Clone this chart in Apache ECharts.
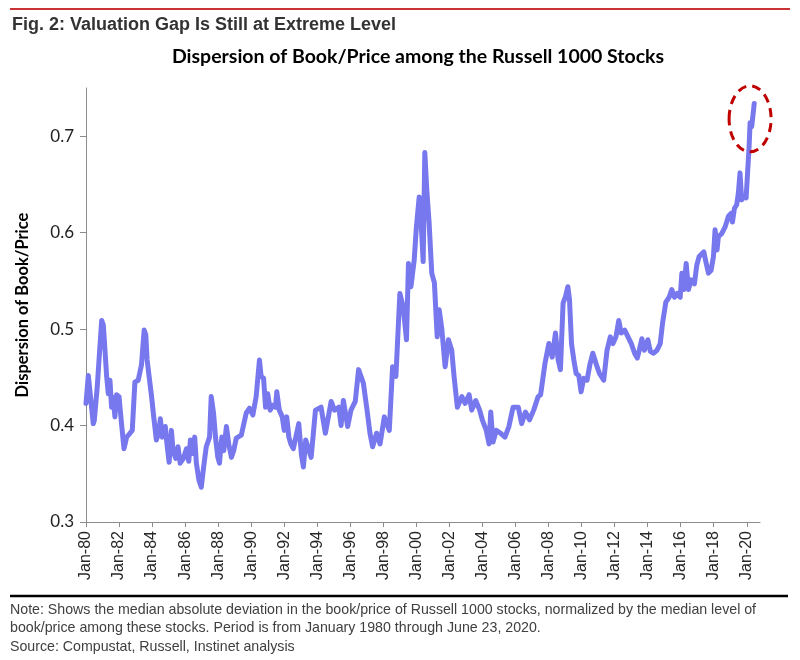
<!DOCTYPE html>
<html>
<head>
<meta charset="utf-8">
<script src="https://cdn.jsdelivr.net/npm/echarts@6/dist/echarts.min.js"></script>
<style>
html,body{margin:0;padding:0;background:#fff;}
#chart{width:800px;height:660px;}
</style>
</head>
<body>
<div id="chart"></div>
<script>
// ---- data ----
var years = [
1980.00,1980.14,1980.22,1980.44,1980.50,1980.68,1980.80,1980.95,1981.05,1981.15,1981.25,1981.35,1981.45,1981.55,1981.65,1981.75,1981.85,
1982.00,1982.15,1982.30,1982.46,1982.66,1982.80,1982.96,1983.16,1983.36,1983.52,1983.62,1983.70,1983.87,1983.97,
1984.10,1984.26,1984.40,1984.50,1984.62,1984.80,1984.90,1985.03,1985.17,1985.27,1985.43,1985.57,1985.70,1985.90,
1986.08,1986.22,1986.32,1986.44,1986.58,1986.68,1986.84,1986.98,1987.12,1987.28,1987.48,1987.58,1987.72,1987.84,1987.98,
1988.08,1988.22,1988.34,1988.50,1988.64,1988.80,1988.94,1989.10,1989.40,1989.70,1989.90,
1990.10,1990.30,1990.50,1990.60,1990.75,1990.87,1991.00,1991.15,1991.30,1991.47,1991.55,1991.70,1991.88,
1992.00,1992.15,1992.28,1992.40,1992.55,1992.67,1992.88,1993.04,1993.16,1993.30,1993.42,1993.63,1993.89,
1994.23,1994.49,1994.84,1995.04,1995.30,1995.44,1995.58,1995.84,
1996.04,1996.30,1996.50,1996.79,1996.99,1997.19,1997.35,1997.59,1997.80,
1998.06,1998.36,1998.56,1998.76,1999.00,1999.20,1999.40,1999.52,1999.67,1999.87,
2000.00,2000.17,2000.31,2000.41,2000.51,2000.63,2000.77,2000.93,2001.09,2001.26,2001.38,2001.54,2001.74,2001.94,
2002.14,2002.28,2002.48,2002.75,2002.95,2003.19,2003.35,2003.59,2003.83,2003.99,
2004.23,2004.40,2004.50,2004.64,2004.84,2005.10,2005.36,2005.60,2005.85,
2006.17,2006.37,2006.60,2006.85,2007.10,2007.37,2007.52,2007.78,
2008.02,2008.22,2008.42,2008.58,2008.72,2008.88,2009.03,2009.17,2009.27,2009.39,2009.53,2009.67,2009.83,2009.97,
2010.13,2010.33,2010.50,2010.68,2010.88,2011.08,2011.34,2011.54,2011.74,2011.90,
2012.08,2012.25,2012.40,2012.61,2012.81,2013.01,2013.21,2013.37,2013.49,2013.65,2013.80,
2014.01,2014.16,2014.36,2014.56,2014.76,2014.90,2015.10,2015.30,2015.46,2015.62,2015.79,2015.97,
2016.07,2016.20,2016.33,2016.47,2016.63,2016.83,2016.97,2017.11,2017.27,2017.40,2017.52,2017.68,2017.84,2017.98,
2018.08,2018.20,2018.28,2018.48,2018.69,2018.89,2019.05,2019.13,2019.25,2019.39,2019.49,2019.59,2019.69,2019.81,2019.96,
2020.08,2020.14,2020.20,2020.30,2020.45
];
var dispersion = [
0.423,0.452,0.450,0.402,0.405,0.440,0.471,0.509,0.504,0.478,0.451,0.433,0.447,0.419,0.429,0.409,0.432,
0.430,0.402,0.376,0.388,0.392,0.395,0.445,0.447,0.463,0.499,0.494,0.468,0.444,0.430,
0.409,0.385,0.392,0.407,0.388,0.399,0.381,0.362,0.395,0.374,0.366,0.378,0.361,0.366,
0.376,0.363,0.385,0.371,0.388,0.361,0.343,0.336,0.357,0.378,0.388,0.430,0.413,0.388,0.367,
0.361,0.388,0.374,0.399,0.381,0.367,0.374,0.387,0.390,0.413,0.418,
0.411,0.430,0.468,0.451,0.449,0.419,0.433,0.416,0.421,0.419,0.435,0.416,0.409,
0.395,0.409,0.388,0.381,0.376,0.374,0.402,0.370,0.357,0.385,0.387,0.367,0.416,
0.419,0.392,0.425,0.416,0.419,0.400,0.426,0.399,
0.416,0.425,0.458,0.444,0.419,0.392,0.378,0.392,0.381,
0.409,0.395,0.461,0.451,0.537,0.523,0.489,0.568,0.544,0.572,
0.606,0.637,0.603,0.570,0.683,0.644,0.610,0.558,0.548,0.492,0.520,0.500,0.461,0.489,
0.478,0.451,0.419,0.430,0.423,0.432,0.416,0.426,0.416,0.406,
0.395,0.381,0.414,0.383,0.395,0.392,0.388,0.399,0.419,
0.419,0.402,0.414,0.406,0.416,0.430,0.432,0.464,
0.485,0.471,0.496,0.468,0.458,0.527,0.534,0.544,0.530,0.485,0.468,0.454,0.452,0.435,
0.449,0.447,0.463,0.475,0.464,0.454,0.447,0.478,0.492,0.485,
0.492,0.509,0.496,0.499,0.492,0.485,0.475,0.470,0.478,0.490,0.478,
0.489,0.477,0.475,0.478,0.485,0.506,0.528,0.533,0.541,0.533,0.537,0.533,
0.558,0.541,0.568,0.541,0.551,0.547,0.566,0.575,0.578,0.580,0.570,0.558,0.561,0.575,
0.603,0.582,0.596,0.599,0.606,0.617,0.620,0.611,0.625,0.629,0.641,0.662,0.634,0.637,0.636,
0.637,0.689,0.714,0.710,0.734
];
var tickYears = [1980,1982,1984,1986,1988,1990,1992,1994,1996,1998,2000,2002,2004,2006,2008,2010,2012,2014,2016,2018,2020];
var yTicks = [0.3,0.4,0.5,0.6,0.7];
var highlightPoint = [2020.2, 0.718];

var figTitle = 'Fig. 2: Valuation Gap Is Still at Extreme Level';
var chartTitle = 'Dispersion of Book/Price among the Russell 1000 Stocks';
var yName = 'Dispersion of Book/Price';
var noteLines = [
  'Note: Shows the median absolute deviation in the book/price of Russell 1000 stocks, normalized by the median level of',
  'book/price among these stocks. Period is from January 1980 through June 23, 2020.',
  'Source: Compustat, Russell, Instinet analysis'
];

var seriesData = years.map(function (y, i) { return [y, dispersion[i]]; });

var chart = echarts.init(document.getElementById('chart'), null, {renderer: 'canvas'});

var option = {
  animation: false,
  backgroundColor: '#ffffff',
  grid: {left: 86, right: 40, top: 88, bottom: 138, containLabel: false},
  xAxis: {
    type: 'value',
    min: 1980,
    max: 2020.8,
    axisLine: {show: true, lineStyle: {color: '#8c8c8c', width: 1}},
    axisTick: {show: true, length: 5, customValues: tickYears, lineStyle: {color: '#8c8c8c'}},
    splitLine: {show: false},
    axisLabel: {
      customValues: tickYears,
      rotate: 90,
      margin: 9,
      fontFamily: 'Liberation Sans, Arial, sans-serif',
      fontSize: 16,
      color: '#262626',
      formatter: function (v) { return 'Jan-' + String(Math.round(v)).slice(2); }
    }
  },
  yAxis: {
    type: 'value',
    min: 0.3,
    max: 0.75,
    name: yName,
    nameLocation: 'middle',
    nameGap: 55,
    nameTextStyle: {fontFamily: 'Lato, "Open Sans", sans-serif', fontWeight: 'bold', fontSize: 16.5, color: '#000'},
    axisLine: {show: true, lineStyle: {color: '#8c8c8c', width: 1}},
    axisTick: {show: true, length: 6, customValues: yTicks, lineStyle: {color: '#8c8c8c'}},
    splitLine: {show: false},
    axisLabel: {
      customValues: yTicks,
      margin: 12,
      fontFamily: 'Lato, "Open Sans", sans-serif',
      fontSize: 17,
      color: '#222',
      formatter: function (v) { return v.toFixed(1); }
    }
  },
  series: [{
    type: 'line',
    data: seriesData,
    showSymbol: false,
    symbol: 'none',
    lineStyle: {color: '#7777ee', width: 5, join: 'round', cap: 'round'},
    itemStyle: {color: '#7777ee'}
  }]
};
chart.setOption(option);

var c = chart.convertToPixel({gridIndex: 0}, highlightPoint);

chart.setOption({
  graphic: [
    {type: 'line', shape: {x1: 10, y1: 9, x2: 790, y2: 9}, style: {stroke: '#cc3333', lineWidth: 2}, silent: true},
    {type: 'text', x: 12, y: 25, style: {text: figTitle, font: 'bold 18px "Liberation Sans", Arial, sans-serif', fill: '#333333', textAlign: 'left', textVerticalAlign: 'middle'}},
    {type: 'text', x: 418, y: 57, style: {text: chartTitle, font: 'bold 19.5px Lato, "Open Sans", sans-serif', fill: '#000', textAlign: 'center', textVerticalAlign: 'middle'}},
    {type: 'ellipse', shape: {cx: c[0], cy: c[1], rx: 21, ry: 33}, style: {fill: 'none', stroke: '#c00000', lineWidth: 3, lineDash: [9, 6]}, z: 100},
    {type: 'line', shape: {x1: 10, y1: 596, x2: 788, y2: 596}, style: {stroke: '#000', lineWidth: 2.5}},
    {type: 'text', x: 10, y: 610, style: {text: noteLines[0], font: '14.2px "Liberation Sans", Arial, sans-serif', fill: '#404040', textAlign: 'left', textVerticalAlign: 'middle'}},
    {type: 'text', x: 10, y: 628, style: {text: noteLines[1], font: '14.2px "Liberation Sans", Arial, sans-serif', fill: '#404040', textAlign: 'left', textVerticalAlign: 'middle'}},
    {type: 'text', x: 10, y: 647, style: {text: noteLines[2], font: '14.2px "Liberation Sans", Arial, sans-serif', fill: '#404040', textAlign: 'left', textVerticalAlign: 'middle'}}
  ]
});
</script>
</body>
</html>
